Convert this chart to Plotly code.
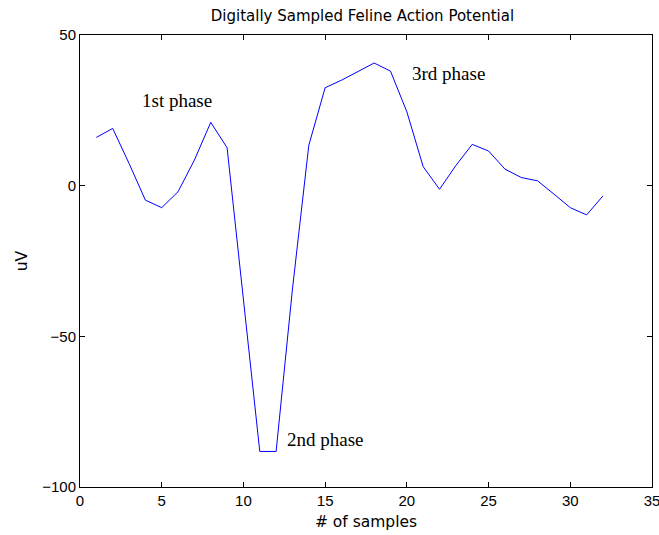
import plotly.graph_objects as go

samples = list(range(1, 33))
uv = [16.0, 19.0, 7.4, -4.8, -7.3, -2.0, 8.5, 21.0, 12.6, -38.0,
      -88.2, -88.2, -34.3, 13.4, 32.5, 35.0, 37.8, 40.7, 38.0, 24.5,
      6.3, -1.2, 6.7, 13.7, 11.5, 5.5, 2.7, 1.6, -2.8, -7.3, -9.7, -3.4]

ann_text = ["1st phase", "2nd phase", "3rd phase"]
ann_x = [3.7, 12.57, 20.2]
ann_y = [28.4, -84.3, 37.3]

x_ticks = [0, 5, 10, 15, 20, 25, 30, 35]
y_ticks = [-100, -50, 0, 50]

label_font = dict(family="DejaVu Sans, sans-serif", size=15.5, color="black")

fig = go.Figure()
fig.add_trace(go.Scatter(x=samples, y=uv, mode="lines",
                         line=dict(color="rgb(0,0,255)", width=1)))

for t, ax_, ay_ in zip(ann_text, ann_x, ann_y):
    fig.add_annotation(x=ax_, y=ay_, text=t, showarrow=False, xanchor="left",
                       yanchor="middle",
                       font=dict(family="Liberation Serif, Times New Roman, serif",
                                 size=19, color="black"))

axis_common = dict(showgrid=False, zeroline=False, showline=True, linecolor="black",
                   linewidth=1, mirror="ticks", ticks="inside", ticklen=5,
                   tickcolor="black", ticklabeloverflow="allow", automargin=False,
                   tickfont=dict(family="Liberation Sans, Arial, sans-serif", size=15,
                                 color="black"))

fig.update_layout(
    width=659, height=535,
    margin=dict(l=80, r=7, t=35, b=48),
    paper_bgcolor="white", plot_bgcolor="white",
    showlegend=False,
    title=dict(text="Digitally Sampled Feline Action Potential", x=0.55, xanchor="center",
               y=0.970, yanchor="middle", font=dict(family="DejaVu Sans, sans-serif", size=15, color="black")),
    xaxis=dict(range=[0, 35], tickvals=x_ticks,
               title=dict(text="# of samples", standoff=8, font=label_font),
               **axis_common),
    yaxis=dict(range=[-100, 50], tickvals=y_ticks,
               title=dict(text="uV", standoff=10, font=label_font),
               **axis_common),
)

fig.write_html("out.html")
